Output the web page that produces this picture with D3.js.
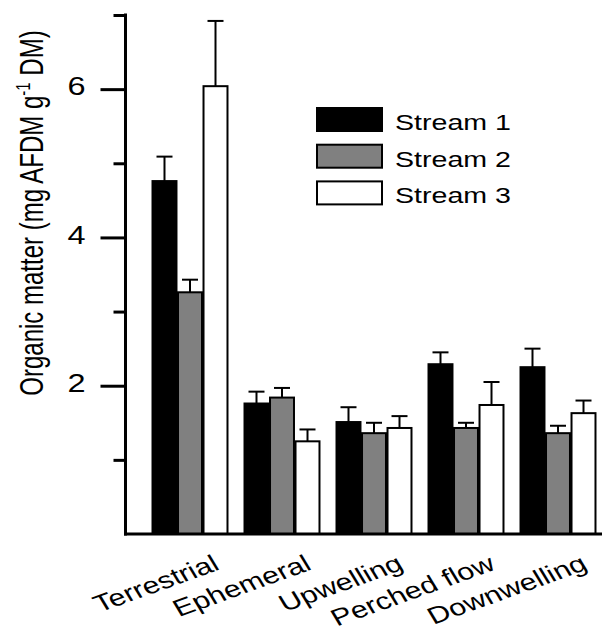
<!DOCTYPE html>
<html>
<head>
<meta charset="utf-8">
<script src="https://cdn.jsdelivr.net/npm/d3@7"></script>
<style>
  html, body { margin: 0; padding: 0; background: #fff; }
  svg { display: block; font-family: "Liberation Sans", Arial, sans-serif; }
</style>
</head>
<body>
<svg id="chart" width="602" height="630"></svg>
<script>
const categories = ["Terrestrial", "Ephemeral", "Upwelling", "Perched flow", "Downwelling"];
const seriesNames = ["Stream 1", "Stream 2", "Stream 3"];
const stream1 = [4.76, 1.76, 1.51, 2.29, 2.25];
const stream1Err = [0.33, 0.16, 0.20, 0.16, 0.25];
const stream2 = [3.26, 1.84, 1.36, 1.43, 1.36];
const stream2Err = [0.17, 0.13, 0.14, 0.07, 0.10];
const stream3 = [6.04, 1.25, 1.43, 1.74, 1.63];
const stream3Err = [0.88, 0.16, 0.16, 0.31, 0.17];
const majorTicks = [2, 4, 6];
const minorTicks = [1, 3, 5, 7];
const yTitle = "Organic matter (mg AFDM g";
const yTitleSup = "-1";
const yTitleEnd = " DM)";

const fills = ["#000000", "#808080", "#ffffff"];
const SX = 1.3; // horizontal stretch of text

const values = [stream1, stream2, stream3];
const errs = [stream1Err, stream2Err, stream3Err];

const svg = d3.select("#chart");

const x0 = d3.scaleBand().domain(categories).range([144, 604])
  .paddingInner(0.185).paddingOuter(0.0925);
const x1 = d3.scaleBand().domain(seriesNames).range([0, x0.bandwidth()]).paddingInner(0.06);
const y = d3.scaleLinear().domain([0, 7]).range([534, 15]);

// bars
const groups = svg.append("g").selectAll("g").data(categories).join("g")
  .attr("transform", d => `translate(${x0(d)},0)`);

seriesNames.forEach((s, si) => {
  groups.each(function(c, ci) {
    const g = d3.select(this);
    const v = values[si][ci], e = errs[si][ci];
    const cx = x1(s) + x1.bandwidth() / 2;
    g.append("line").attr("x1", cx).attr("x2", cx)
      .attr("y1", y(v)).attr("y2", y(v + e))
      .attr("stroke", "#000").attr("stroke-width", 2);
    g.append("line").attr("x1", cx - 8).attr("x2", cx + 8)
      .attr("y1", y(v + e)).attr("y2", y(v + e))
      .attr("stroke", "#000").attr("stroke-width", 2);
    g.append("rect")
      .attr("x", x1(s)).attr("width", x1.bandwidth())
      .attr("y", y(v)).attr("height", y(0) - y(v))
      .attr("fill", fills[si]).attr("stroke", "#000").attr("stroke-width", 2);
  });
});

// y axis
const axisG = svg.append("g").attr("transform", "translate(125.5,0)");
axisG.call(d3.axisLeft(y).tickValues(minorTicks).tickSize(12).tickFormat(""))
  .call(g => g.select(".domain").remove())
  .call(g => g.selectAll("line").attr("stroke-width", 3));
const majG = svg.append("g").attr("transform", "translate(125.5,0)");
majG.call(d3.axisLeft(y).tickValues(majorTicks).tickSize(25).tickPadding(14).tickFormat(d3.format("d")))
  .call(g => g.select(".domain").remove())
  .call(g => g.selectAll("line").attr("stroke-width", 3))
  .call(g => g.selectAll("text")
    .attr("font-size", 25).attr("font-family", "Liberation Sans, Arial, sans-serif")
    .attr("fill", "#000")
    .attr("transform", `translate(-40,-3) scale(${SX},1)`)
    .attr("x", 0).attr("dy", "0.35em"));

svg.append("line").attr("x1", 125.5).attr("x2", 125.5).attr("y1", 13.5).attr("y2", 535.5)
  .attr("stroke", "#000").attr("stroke-width", 3);
svg.append("line").attr("x1", 124).attr("x2", 602).attr("y1", 534).attr("y2", 534)
  .attr("stroke", "#000").attr("stroke-width", 3);

// x labels
svg.append("g").selectAll("text").data(categories).join("text")
  .attr("transform", d => `translate(${x0(d) + x0.bandwidth() / 2 + 31},569) scale(${SX},1) rotate(-25)`)
  .attr("text-anchor", "end")
  .attr("font-size", 23.5)
  .attr("fill", "#000")
  .text(d => d);

// y title
const t = svg.append("text")
  .attr("transform", `translate(43,213) scale(1.4,1) rotate(-90)`)
  .attr("text-anchor", "middle")
  .attr("font-size", 24)
  .attr("fill", "#000");
t.append("tspan").text(yTitle);
t.append("tspan").attr("font-size", 15).attr("dy", -9).text(yTitleSup);
t.append("tspan").attr("dy", 9).text(yTitleEnd);

// legend
const leg = svg.append("g");
seriesNames.forEach((s, i) => {
  const yy = 108 + i * 36.7;
  leg.append("rect").attr("x", 317).attr("y", yy).attr("width", 65).attr("height", 23)
    .attr("fill", fills[i]).attr("stroke", "#000").attr("stroke-width", 2);
  leg.append("text")
    .attr("transform", `translate(395,${yy + 22}) scale(1.33,1)`)
    .attr("font-size", 21.5).attr("fill", "#000").text(s);
});
</script>
</body>
</html>
